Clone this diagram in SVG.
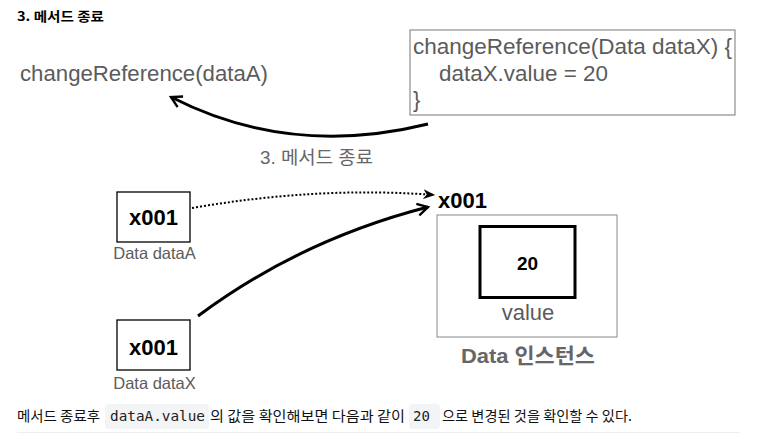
<svg xmlns="http://www.w3.org/2000/svg" width="757" height="447" viewBox="0 0 757 447">
<style>
.sans{font-family:"Liberation Sans","Noto Sans CJK KR",Arial,sans-serif}
.kr{font-family:"Noto Sans CJK KR","Noto Sans",sans-serif}
.mono{font-family:"DejaVu Sans Mono","Liberation Mono",monospace}
.gray{fill:#5b5b5b}
.box{fill:#fff;stroke:#000;stroke-width:1.3}
.conn{fill:none;stroke:#000}
</style>
<defs>
<marker id="ah" viewBox="0 0 10 10" refX="8" refY="5" markerWidth="5" markerHeight="5" orient="auto" markerUnits="strokeWidth">
<path d="M1,1 L8,5 L1,9" fill="none" stroke="#000" stroke-width="1.6"/>
</marker>
<marker id="ahd" viewBox="0 0 10 10" refX="9" refY="5" markerWidth="6" markerHeight="6" orient="auto" markerUnits="strokeWidth">
<path d="M0,1 L10,5 L0,9 L3,5 Z" fill="#000"/>
</marker>
</defs>
<rect width="757" height="447" fill="#fff"/>
<text x="17" y="21" class="kr" font-size="13" font-weight="bold" fill="#000" textLength="87" lengthAdjust="spacingAndGlyphs">3. 메서드 종료</text>

<g id="caller">
<text x="20" y="81" class="sans gray" font-size="22" textLength="248" lengthAdjust="spacingAndGlyphs">changeReference(dataA)</text>
</g>

<g id="method">
<rect x="410" y="30" width="325" height="85" fill="#fff" stroke="#777" stroke-width="1"/>
<text x="413" y="54" class="sans gray" font-size="22" textLength="319" lengthAdjust="spacingAndGlyphs">changeReference(Data dataX) {</text>
<text x="439" y="81" class="sans gray" font-size="22" textLength="169" lengthAdjust="spacingAndGlyphs">dataX.value = 20</text>
<text x="413" y="107" class="sans gray" font-size="22">}</text>
</g>

<g id="dataA">
<rect x="117" y="192" width="73" height="50" class="box"/>
<text x="153.5" y="225" text-anchor="middle" class="sans" font-size="22" font-weight="bold">x001</text>
<text x="154.5" y="259" text-anchor="middle" class="sans gray" font-size="16.5">Data dataA</text>
</g>

<g id="dataX">
<rect x="117" y="320" width="73" height="50" class="box"/>
<text x="153.5" y="355" text-anchor="middle" class="sans" font-size="22" font-weight="bold">x001</text>
<text x="154.5" y="389" text-anchor="middle" class="sans gray" font-size="16.5">Data dataX</text>
</g>

<g id="instance">
<text x="438" y="208" class="sans" font-size="22" font-weight="bold">x001</text>
<rect x="437" y="215" width="180" height="122" fill="#fff" stroke="#888" stroke-width="1"/>
<rect x="480" y="226.5" width="95" height="71" fill="#fff" stroke="#000" stroke-width="3"/>
<text x="527.5" y="270" text-anchor="middle" class="sans" font-size="19" font-weight="bold">20</text>
<text x="528" y="320" text-anchor="middle" class="sans gray" font-size="22">value</text>
<text x="528" y="363" text-anchor="middle" class="sans" font-size="21" font-weight="bold" fill="#666" textLength="134" lengthAdjust="spacingAndGlyphs">Data 인스턴스</text>
</g>

<g id="connectors">
<path d="M428,124 Q290,158 171,97" class="conn" stroke-width="3" marker-end="url(#ah)"/>
<text x="260" y="164" class="sans" font-size="18" fill="#666" textLength="113" lengthAdjust="spacingAndGlyphs">3. 메서드 종료</text>
<path d="M192,208 Q320,186 434,195" class="conn" stroke-width="2" stroke-dasharray="2,2" marker-end="url(#ahd)"/>
<path d="M198,316 Q300,240 428,207" class="conn" stroke-width="3" marker-end="url(#ah)"/>
</g>

<g id="footer">
<text x="17" y="421" class="kr" font-size="14" fill="#111" textLength="83" lengthAdjust="spacingAndGlyphs">메서드 종료후</text>
<rect x="105" y="404" width="104" height="25" rx="4" fill="#f3f4f6"/>
<text x="110" y="421" class="mono" font-size="14" fill="#222" textLength="95" lengthAdjust="spacingAndGlyphs">dataA.value</text>
<text x="210" y="421" class="kr" font-size="14" fill="#111" textLength="195" lengthAdjust="spacingAndGlyphs">의 값을 확인해보면 다음과 같이</text>
<rect x="409" y="404" width="31" height="25" rx="4" fill="#f3f4f6"/>
<text x="413" y="421" class="mono" font-size="14" fill="#222">20</text>
<text x="442" y="421" class="kr" font-size="14" fill="#111" textLength="190" lengthAdjust="spacingAndGlyphs">으로 변경된 것을 확인할 수 있다.</text>
<line x1="17" y1="432.5" x2="740" y2="432.5" stroke="#eee" stroke-width="1"/>
</g>
</svg>
